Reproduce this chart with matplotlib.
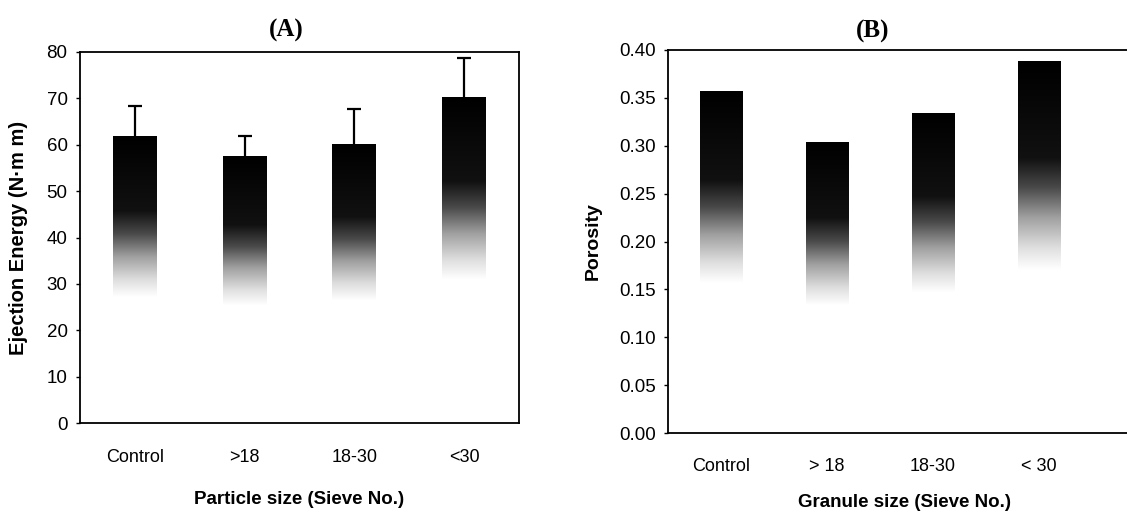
import numpy as np
import matplotlib
matplotlib.use("Agg")
import matplotlib.pyplot as plt
from matplotlib.colors import LinearSegmentedColormap
from matplotlib.patches import Rectangle

# ---- data ----
cats_a = ["Control", ">18", "18-30", "<30"]
energy = [61.8, 57.6, 60.1, 70.3]
energy_err = [6.6, 4.3, 7.7, 8.3]

cats_b = ["Control", "> 18", "18-30", "< 30"]
porosity = [0.357, 0.3035, 0.334, 0.388]

yticks_a = [0, 10, 20, 30, 40, 50, 60, 70, 80]
yticks_b = [0.00, 0.05, 0.10, 0.15, 0.20, 0.25, 0.30, 0.35, 0.40]

plt.rcParams['font.family'] = ['Liberation Sans', 'DejaVu Sans']

W, H = 1127, 517
fig = plt.figure(figsize=(W / 100, H / 100), dpi=100)

def ax_rect(l, r, t, b):
    return [l / W, 1 - b / H, (r - l) / W, (b - t) / H]

# gradient: fraction of bar height (0 bottom -> 1 top) to grey level
grad = LinearSegmentedColormap.from_list(
    "g", [(0.0, "#ffffff"), (0.44, "#ffffff"), (0.50, "#dedede"),
          (0.58, "#a0a0a0"), (0.66, "#4a4a4a"), (0.74, "#111111"),
          (1.0, "#000000")])

def grad_bars(ax, x, vals, width=0.4):
    bars = ax.bar(x, vals, width=width, color="none", edgecolor="none")
    g = np.linspace(0, 1, 256).reshape(-1, 1)
    for b in bars:
        x0, y0 = b.get_x(), b.get_y()
        w, h = b.get_width(), b.get_height()
        im = ax.imshow(g, cmap=grad, vmin=0, vmax=1, origin="lower",
                       extent=[x0, x0 + w, y0, y0 + h], aspect="auto",
                       interpolation="bilinear", zorder=2)
        im.set_clip_path(Rectangle((x0, y0), w, h, transform=ax.transData))
    return bars

def style(ax):
    for s in ["left", "bottom", "top", "right"]:
        ax.spines[s].set_linewidth(1.3)
        ax.spines[s].set_color("black")
    ax.tick_params(axis="y", length=3, width=1, direction="out",
                   labelsize=13.5, pad=6)
    ax.tick_params(axis="x", length=0, labelsize=13)

# ---- panel A ----
axA = fig.add_axes(ax_rect(80, 519, 52, 423))
xa = np.arange(len(cats_a))
grad_bars(axA, xa, energy)
eb = axA.errorbar(xa, energy, yerr=[np.zeros(len(energy)), energy_err],
                  fmt="none", ecolor="black", elinewidth=1.6, capsize=5,
                  capthick=1.6, zorder=3)
# keep only the upper caps
for cl in eb[1]:
    if np.allclose(cl.get_ydata(), energy):
        cl.set_visible(False)
axA.set_xlim(-0.5, 3.5)
axA.set_ylim(0, 80)
axA.set_yticks(yticks_a)
axA.set_yticklabels([str(v) for v in yticks_a])
axA.set_xticks(xa)
axA.set_xticklabels(cats_a)
style(axA)
axA.tick_params(axis="x", pad=19)
axA.set_ylabel("Ejection Energy (N·m m)", fontsize=14.5, fontweight="bold",
               labelpad=13)
axA.set_xlabel("Particle size (Sieve No.)", fontsize=13.5, fontweight="bold",
               labelpad=18)
axA.set_title("(A)", fontsize=18, fontweight="bold", x=(286 - 80) / 439,
              family=["Liberation Serif", "DejaVu Serif"], pad=11)

# ---- panel B ----
axB = fig.add_axes(ax_rect(668, 1140, 50, 433))
xb = np.arange(len(cats_b))
grad_bars(axB, xb, porosity)
axB.set_xlim(-0.5, -0.5 + (1140 - 668) / 106)
axB.set_ylim(0, 0.40)
axB.set_yticks(yticks_b)
axB.set_yticklabels([f"{v:.2f}" for v in yticks_b])
axB.set_xticks(xb)
axB.set_xticklabels(cats_b)
style(axB)
axB.tick_params(axis="x", pad=18)
axB.spines["right"].set_visible(False)
axB.set_ylabel("Porosity", fontsize=14, fontweight="bold", labelpad=12)
axB.set_xlabel("Granule size (Sieve No.)", fontsize=13.5, fontweight="bold",
               labelpad=14)
axB.set_title("(B)", fontsize=18, fontweight="bold", x=(873 - 668) / 472,
              family=["Liberation Serif", "DejaVu Serif"], pad=9)

fig.savefig("out.png", dpi=100)
